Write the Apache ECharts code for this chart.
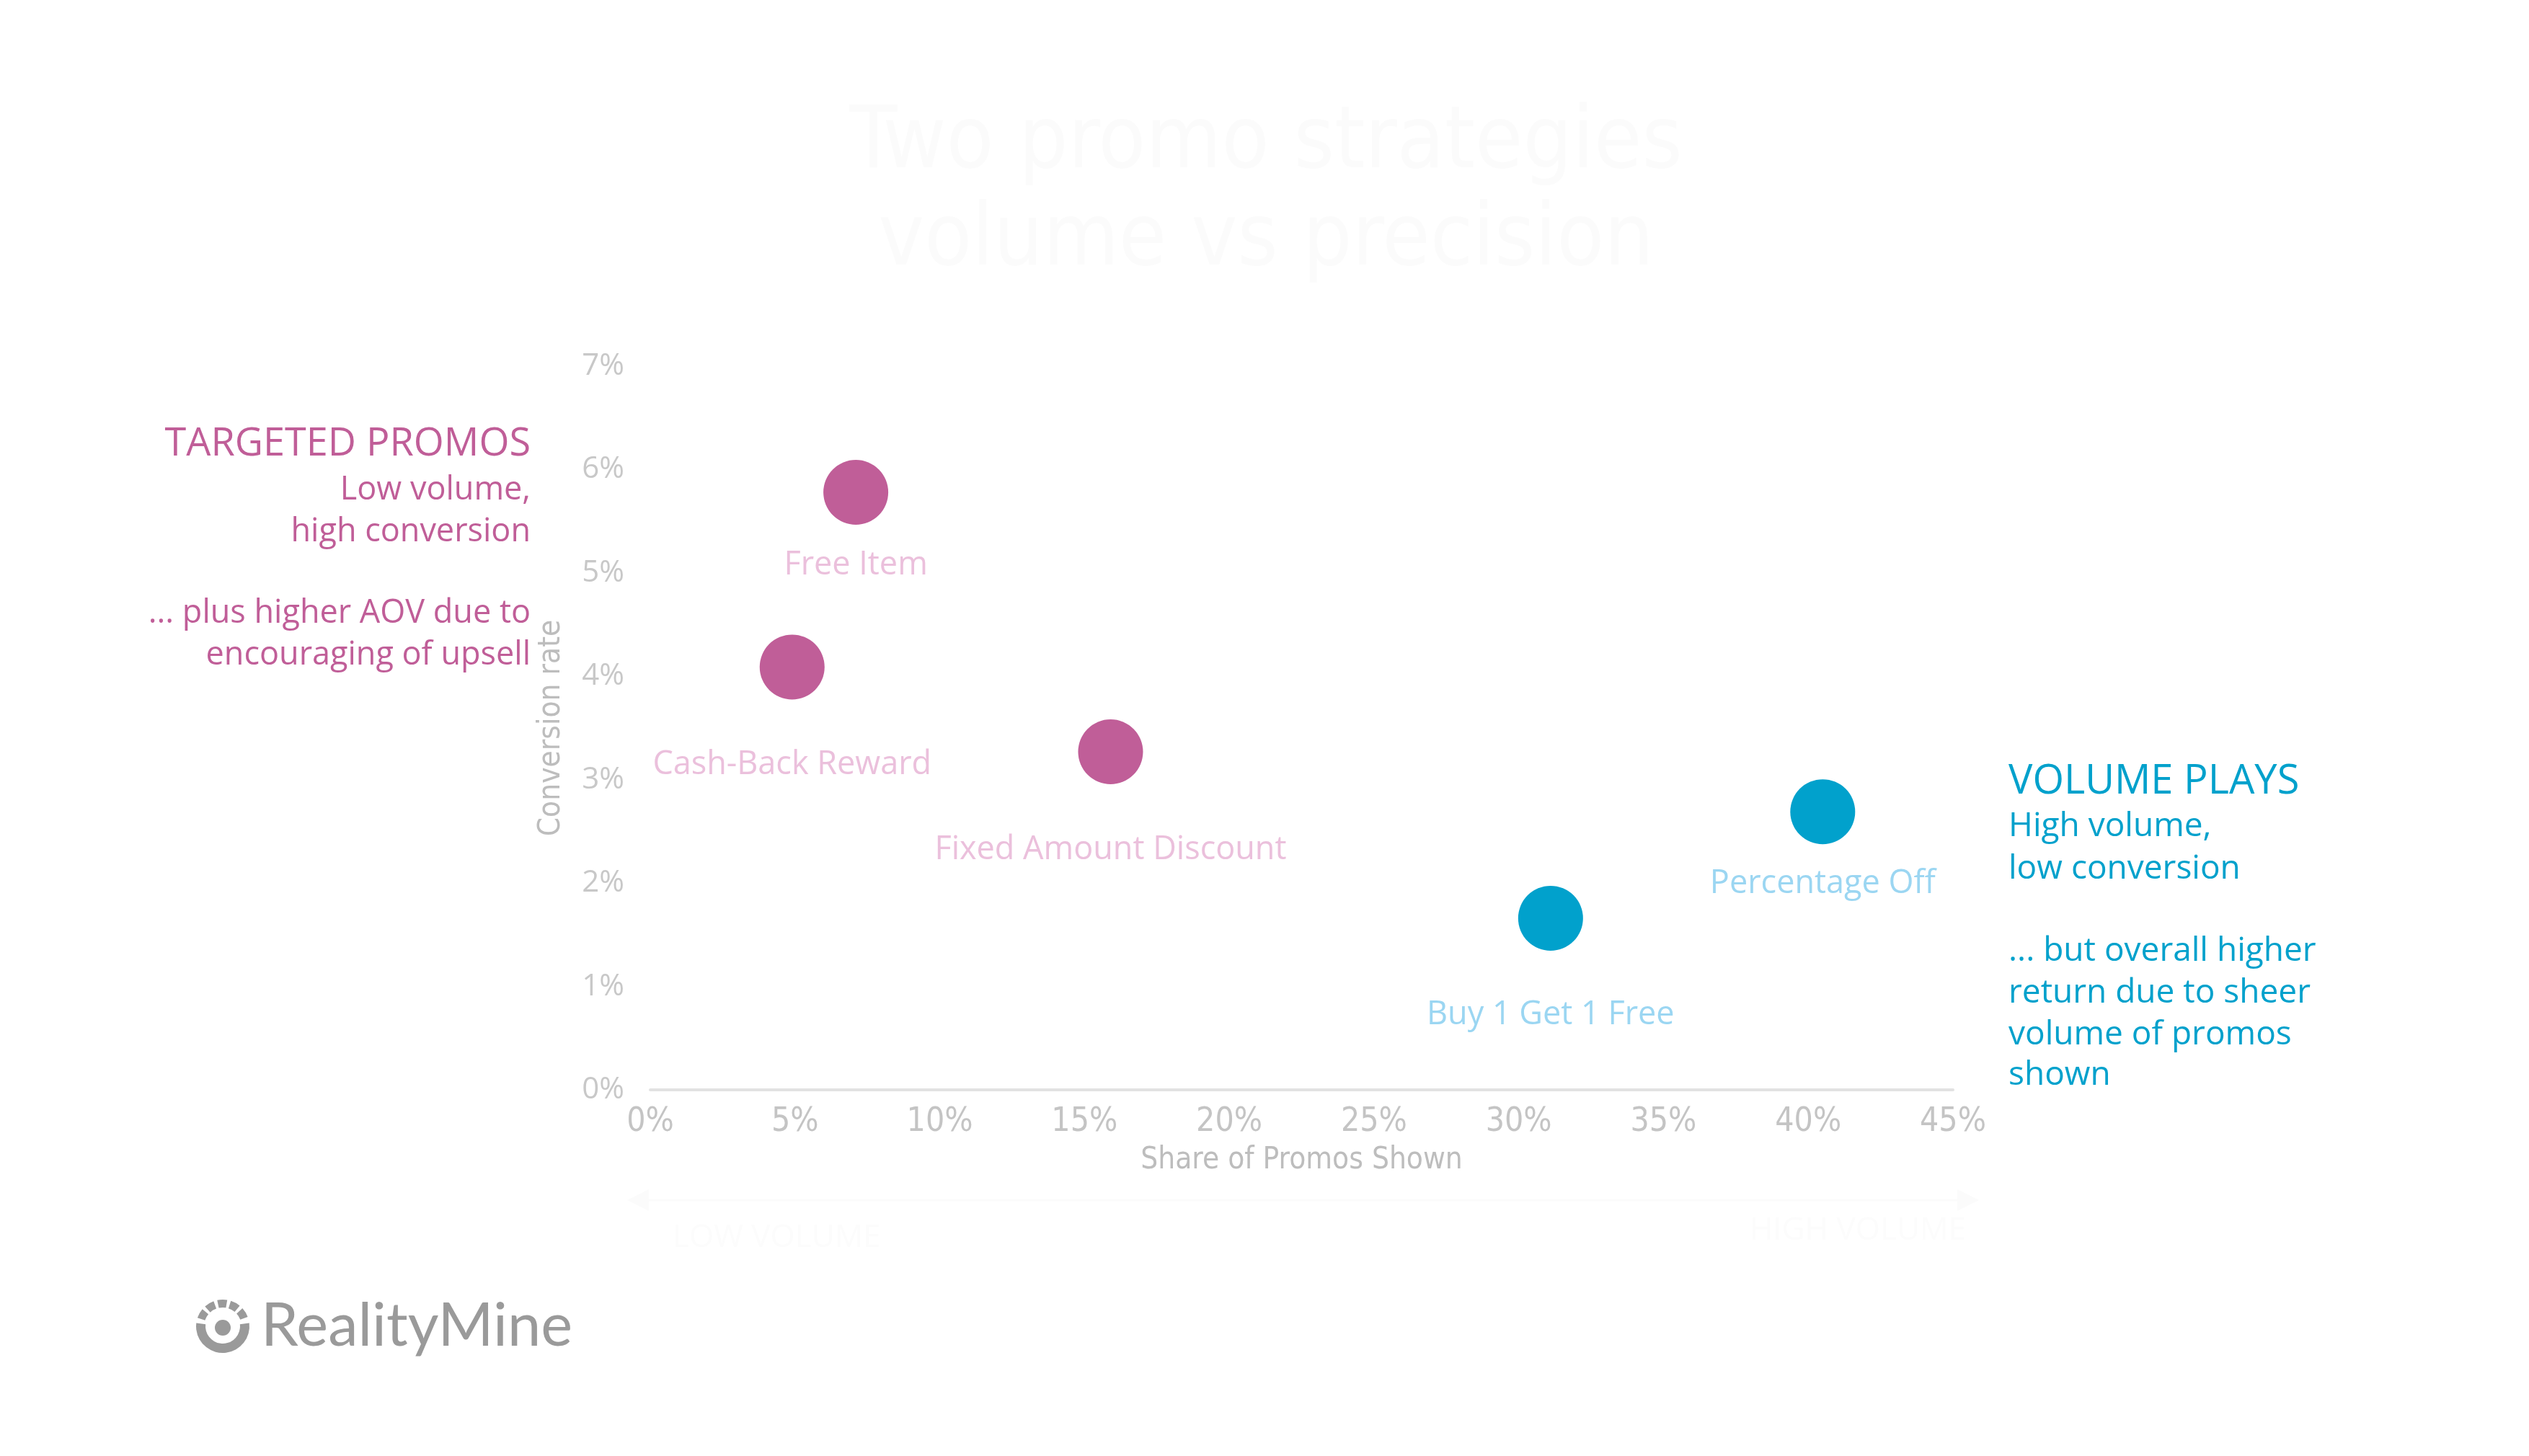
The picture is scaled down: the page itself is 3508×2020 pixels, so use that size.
<!DOCTYPE html>
<html>
<head>
<meta charset="utf-8">
<script src="https://cdn.jsdelivr.net/npm/echarts@6/dist/echarts.min.js"></script>
<style>html,body{margin:0;padding:0;background:#fff;}#chart{width:3508px;height:2020px;}</style>
</head>
<body>
<div id="chart"></div>
<script>
// ---- data ----
const promoNames = ['Free Item', 'Cash-Back Reward', 'Fixed Amount Discount', 'Buy 1 Get 1 Free', 'Percentage Off'];
const shareShown = [7.1, 4.9, 15.9, 31.1, 40.5];          // % of promos shown
const conversionRate = [5.78, 4.09, 3.27, 1.66, 2.69];    // % conversion
const strategyGroup = ['targeted', 'targeted', 'targeted', 'volume', 'volume'];
const xTicks = [0, 45, 5];   // min, max, interval
const yTicks = [0, 7, 1];
const titleLines = ['Two promo strategies', 'volume vs precision'];
const leftNote = ['TARGETED PROMOS', 'Low volume,', 'high conversion', '', '... plus higher AOV due to', 'encouraging of upsell'];
const rightNote = ['VOLUME PLAYS', 'High volume,', 'low conversion', '', '... but overall higher', 'return due to sheer', 'volume of promos', 'shown'];

// ---- styling ----
const NARROW = '"Liberation Sans Narrow","DejaVu Sans Condensed","Roboto",sans-serif';
const SANS = '"Open Sans","Noto Sans",sans-serif';
const MAG = '#C05E98', MAG_LIGHT = '#EBC0DC';
const BLUE = '#01A1CC', BLUE_LIGHT = '#9BD6F2';
const labelGap = {'Free Item': 33, 'Cash-Back Reward': 68, 'Fixed Amount Discount': 68, 'Buy 1 Get 1 Free': 66, 'Percentage Off': 32};

function groupData(g) {
  const out = [];
  promoNames.forEach((n, i) => {
    if (strategyGroup[i] === g) out.push({name: n, value: [shareShown[i], conversionRate[i]], label: {distance: labelGap[n]}});
  });
  return out;
}

const chart = echarts.init(document.getElementById('chart'), null, {renderer: 'canvas'});

const graphics = [];
// title (very faint in reference)
titleLines.forEach((t, i) => {
  graphics.push({type: 'text', x: 1756, y: 201 + i * 135, silent: true,
    style: {text: t, fill: '#FBFBFB', font: '120px ' + NARROW, textAlign: 'center', textVerticalAlign: 'middle'}});
});
// left annotation
const leftY = [617, 680, 738, 0, 851, 909];
leftNote.forEach((t, i) => {
  if (!t) return;
  graphics.push({type: 'text', x: 736, y: leftY[i], silent: true,
    style: {text: t, fill: MAG, font: (i === 0 ? '54px ' : '45px ') + SANS, textAlign: 'right', textVerticalAlign: 'middle'}});
});
// right annotation
const rightY = [1085, 1147, 1206, 0, 1320, 1378, 1436, 1492];
rightNote.forEach((t, i) => {
  if (!t) return;
  graphics.push({type: 'text', x: 2786, y: rightY[i], silent: true,
    style: {text: t, fill: BLUE, font: (i === 0 ? '56px ' : '46px ') + SANS, textAlign: 'left', textVerticalAlign: 'middle'}});
});
// faint bottom arrow with labels
graphics.push({type: 'line', silent: true, shape: {x1: 890, y1: 1665, x2: 2725, y2: 1665}, style: {stroke: '#FBFBFB', lineWidth: 3}});
graphics.push({type: 'polygon', silent: true, shape: {points: [[870, 1665], [900, 1650], [900, 1680]]}, style: {fill: '#FBFBFB'}});
graphics.push({type: 'polygon', silent: true, shape: {points: [[2745, 1665], [2715, 1650], [2715, 1680]]}, style: {fill: '#FBFBFB'}});
graphics.push({type: 'text', x: 933, y: 1717, silent: true, style: {text: 'LOW VOLUME', fill: '#FCFCFC', font: '44px ' + SANS, textAlign: 'left', textVerticalAlign: 'middle'}});
graphics.push({type: 'text', x: 2727, y: 1707, silent: true, style: {text: 'HIGH VOLUME', fill: '#FCFCFC', font: '44px ' + SANS, textAlign: 'right', textVerticalAlign: 'middle'}});
// logo
const LC = [309, 1840], LGREY = '#9A9A9A';
graphics.push({type: 'sector', silent: true, shape: {cx: LC[0], cy: LC[1], r: 37, r0: 24, startAngle: -0.12, endAngle: Math.PI + 0.12, clockwise: true}, style: {fill: LGREY}});
for (let k = 0; k < 5; k++) {
  const a0 = Math.PI + 0.32 + k * 0.52;
  graphics.push({type: 'sector', silent: true, shape: {cx: LC[0], cy: LC[1], r: 37, r0: 26, startAngle: a0, endAngle: a0 + 0.38, clockwise: true}, style: {fill: LGREY}});
}
graphics.push({type: 'circle', silent: true, shape: {cx: LC[0], cy: LC[1] + 2, r: 11}, style: {fill: LGREY}});
graphics.push({type: 'text', x: 362, y: 1840, silent: true, style: {text: 'RealityMine', fill: LGREY, font: '83px "Lato","Open Sans",sans-serif', textAlign: 'left', textVerticalAlign: 'middle'}});

const labelBase = {show: true, position: 'bottom', formatter: '{b}', fontFamily: SANS, fontSize: 45, lineHeight: 46};

chart.setOption({
  backgroundColor: '#FFFFFF',
  animation: false,
  grid: {left: 902, right: 799, top: 508, bottom: 508, containLabel: false},
  xAxis: {
    type: 'value', min: xTicks[0], max: xTicks[1], interval: xTicks[2],
    axisLine: {show: true, lineStyle: {color: '#E2E2E2', width: 4}},
    axisTick: {show: false}, splitLine: {show: false},
    axisLabel: {formatter: '{value}%', color: '#C4C4C4', fontFamily: NARROW, fontSize: 46, margin: 22},
    name: 'Share of Promos Shown', nameLocation: 'middle', nameGap: 77,
    nameTextStyle: {color: '#BDBDBD', fontFamily: NARROW, fontSize: 42}
  },
  yAxis: {
    type: 'value', min: yTicks[0], max: yTicks[1], interval: yTicks[2],
    axisLine: {show: false}, axisTick: {show: false}, splitLine: {show: false},
    axisLabel: {formatter: '{value}%', color: '#C8C8C8', fontFamily: SANS, fontSize: 42, margin: 36},
    name: 'Conversion rate', nameLocation: 'middle', nameRotate: 90, nameGap: 116,
    nameTextStyle: {color: '#BDBDBD', fontFamily: NARROW, fontSize: 42}
  },
  series: [
    {type: 'scatter', name: 'Targeted promos', symbol: 'circle', symbolSize: 90,
     itemStyle: {color: MAG, opacity: 1}, label: Object.assign({color: MAG_LIGHT}, labelBase),
     data: groupData('targeted')},
    {type: 'scatter', name: 'Volume plays', symbol: 'circle', symbolSize: 90,
     itemStyle: {color: BLUE, opacity: 1}, label: Object.assign({color: BLUE_LIGHT}, labelBase),
     data: groupData('volume')}
  ],
  graphic: graphics
});
</script>
</body>
</html>
